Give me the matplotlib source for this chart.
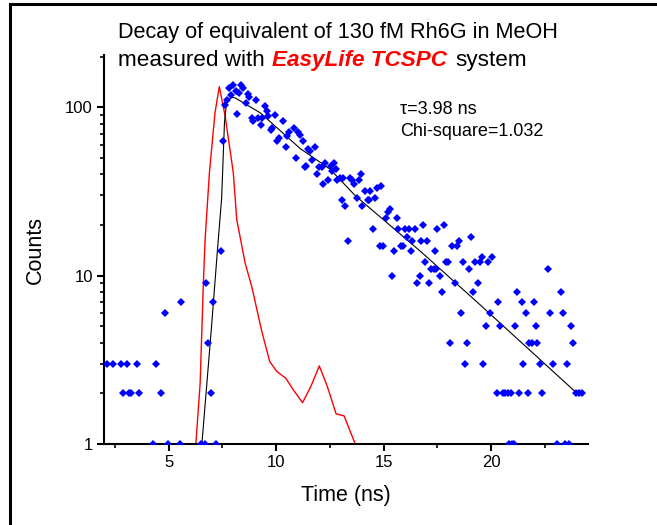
import matplotlib
matplotlib.use("Agg")
import matplotlib.pyplot as plt
from matplotlib.ticker import FixedLocator, NullFormatter, FixedFormatter
from matplotlib.lines import Line2D

plt.rcParams['font.family'] = ['Liberation Sans', 'DejaVu Sans']

# ---------------- data ----------------
decay_t = [2.15, 2.40, 2.77, 2.87, 3.08, 3.18, 3.27, 3.54, 3.64, 4.27, 4.42, 4.64, 4.84, 4.96,
           5.54, 5.58, 6.52, 6.70, 6.74, 6.84, 6.96, 7.05, 7.19, 7.44,
           7.52, 7.63, 7.74, 7.83, 7.90, 8.01, 8.12, 8.20, 8.29, 8.39, 8.48, 8.60, 8.68, 8.76,
           8.88, 8.94, 9.07, 9.18, 9.29, 9.36, 9.47, 9.57, 9.64, 9.75, 9.81, 9.95, 10.06, 10.15,
           10.34, 10.47, 10.53, 10.62, 10.81, 10.93, 11.04, 11.12, 11.24, 11.33, 11.38, 11.50,
           11.58, 11.67, 11.80, 11.89, 12.01, 12.14, 12.20, 12.29, 12.42,
           12.54, 12.59, 12.67, 12.79, 12.85, 12.98, 13.05, 13.13, 13.20, 13.36, 13.44, 13.52,
           13.63, 13.77, 13.87, 13.95, 14.00, 14.14, 14.26, 14.33, 14.37, 14.52, 14.62, 14.71,
           14.84, 14.88, 14.99, 15.12, 15.22, 15.30, 15.38, 15.49, 15.61, 15.69, 15.80, 15.90,
           16.00, 16.08, 16.20, 16.26, 16.34, 16.47, 16.54, 16.70, 16.73, 16.85, 16.93, 17.00,
           17.13, 17.21, 17.32, 17.38, 17.43, 17.50, 17.63, 17.70, 17.81, 17.90, 18.00, 18.09,
           18.20, 18.30, 18.40, 18.50, 18.59, 18.68, 18.79, 18.88, 18.98, 19.07, 19.15, 19.26,
           19.37, 19.46, 19.57, 19.64, 19.75, 19.85, 19.95, 20.03, 20.25, 20.33, 20.42, 20.53,
           20.65, 20.78, 20.85, 20.92, 20.98, 21.04, 21.12, 21.20, 21.30, 21.41, 21.47, 21.60,
           21.69, 21.74, 21.89, 22.00, 22.08, 22.15, 22.25, 22.36, 22.64, 22.74, 22.85, 23.05,
           23.24, 23.33, 23.44, 23.52, 23.60, 23.72, 23.80, 23.92, 24.06, 24.20]
decay_counts = [3, 3, 3, 2, 3, 2, 2, 3, 2, 1, 3, 2, 6, 1,
                1, 7, 1, 1, 9, 4, 2, 7, 1, 14,
                63, 104, 110, 130, 119, 136, 125, 91, 122, 136, 131, 106, 121, 115,
                86, 83, 110, 86, 79, 86, 102, 95, 89, 73, 75, 90, 63, 66,
                83, 58, 68, 71, 76, 50, 71, 69, 63, 44, 45, 57,
                55, 49, 58, 40, 44, 44, 35, 47, 37,
                45, 42, 47, 43, 37, 38, 28, 38, 26, 16, 38, 37,
                35, 29, 37, 40, 26, 32, 28, 28, 32, 19, 29, 33,
                15, 34, 15, 22, 24, 25, 10, 14, 22, 19, 15, 15,
                19, 17, 19, 14, 16, 19, 9, 10, 16, 20, 12, 16,
                9, 11, 11, 14, 11, 19, 10, 8, 20, 12, 12, 4,
                15, 9, 15, 16, 6, 12, 3, 4, 11, 17, 8, 12,
                9, 12, 13, 3, 5, 12, 6, 13, 2, 7, 5, 2,
                2, 2, 1, 2, 1, 1, 5, 8, 2, 7, 3, 6,
                2, 4, 4, 7, 5, 4, 3, 2, 11, 6, 3, 1,
                8, 6, 1, 3, 1, 5, 4, 2, 2, 2]

irf_t = [6.27, 6.47, 6.62, 6.70, 6.90, 7.16, 7.36, 7.63, 8.01, 8.17, 8.56, 8.87, 9.33,
         9.70, 10.03, 10.45, 10.80, 11.23, 11.61, 12.01, 12.38, 12.79, 13.16, 13.68]
irf_counts = [1.0, 2.3, 9.1, 16.4, 40.9, 93, 133, 89, 41, 21.6, 11.9, 8.6, 4.7,
              3.1, 2.7, 2.46, 2.1, 1.76, 2.19, 2.91, 2.2, 1.51, 1.47, 1.0]

fit_t = [6.55, 7.00, 7.27, 7.47, 7.60, 7.70, 7.94, 8.10, 9.26, 11.12, 12.51, 13.67,
         16.70, 19.33, 23.90]
fit_counts = [1.0, 5.0, 14.0, 29.0, 81.0, 109.0, 115.0, 114.0, 93.0, 57.0, 43.0, 30.0,
              14.0, 7.0, 2.05]

x_major = [5, 10, 15, 20]
x_minor = [2.5, 7.5, 12.5, 17.5, 22.5]
y_major = [1, 10, 100]
y_major_labels = ['1', '10', '100']
y_minor = [2, 3, 4, 5, 6, 7, 8, 9, 20, 30, 40, 50, 60, 70, 80, 90, 200]

# ---------------- figure ----------------
W, H = 657, 525
fig = plt.figure(figsize=(W / 100, H / 100), dpi=100)
ax = fig.add_axes([104 / W, 1 - 444 / H, (588 - 104) / W, (444 - 55) / H])

ax.plot(irf_t, irf_counts, color='#ff0000', lw=1.0, zorder=2)
ax.plot(fit_t, fit_counts, color='black', lw=0.8, zorder=3)
ax.plot(decay_t, decay_counts, linestyle='none', marker='D', markersize=4,
        color='#0000ff', markeredgewidth=0, zorder=4)

ax.set_yscale('log')
ax.set_xlim(2, 24.5)
ax.set_ylim(1, 205)

ax.xaxis.set_major_locator(FixedLocator(x_major))
ax.xaxis.set_minor_locator(FixedLocator(x_minor))
ax.yaxis.set_major_locator(FixedLocator(y_major))
ax.yaxis.set_major_formatter(FixedFormatter(y_major_labels))
ax.yaxis.set_minor_locator(FixedLocator(y_minor))
ax.yaxis.set_minor_formatter(NullFormatter())

for s in ['top', 'right']:
    ax.spines[s].set_visible(False)
for s in ['left', 'bottom']:
    ax.spines[s].set_linewidth(1.5)

ax.tick_params(which='major', direction='out', length=5, width=1.5, labelsize=12, pad=3)
ax.tick_params(which='minor', direction='out', length=3, width=1.2)

ax.set_xlabel('Time (ns)', fontsize=15.5, labelpad=11)
ax.set_ylabel('Counts', fontsize=15.5, labelpad=14)

# annotations
ax.text(400 / W, 1 - 110 / H, '\u03c4=3.98 ns', transform=fig.transFigure,
        fontsize=13, ha='left', va='center')
ax.text(400 / W, 1 - 131 / H, 'Chi-square=1.032', transform=fig.transFigure,
        fontsize=13, ha='left', va='center')

# title
fig.text(118 / W, 1 - 38 / H, 'Decay of equivalent of 130 fM Rh6G in MeOH',
         fontsize=15.6, ha='left', va='baseline')
tsize = 16.2
t1 = fig.text(118 / W, 1 - 66 / H, 'measured with', fontsize=tsize,
              ha='left', va='baseline')
sp = 0.34 * tsize
t2 = fig.text(0, 0, 'EasyLife TCSPC', fontsize=tsize, color='#ff0000',
              fontweight='bold', fontstyle='italic', ha='left', va='baseline')
t3 = fig.text(0, 0, 'system', fontsize=tsize, ha='left', va='baseline')

fig.canvas.draw()
r = fig.canvas.get_renderer()
bb1 = t1.get_window_extent(r)
x2 = bb1.x1 + sp * 100 / 72
t2.set_position((x2 / W, 1 - 66 / H))
fig.canvas.draw()
bb2 = t2.get_window_extent(r)
x3 = bb2.x1 + sp * 100 / 72
t3.set_position((x3 / W, 1 - 66 / H))

# figure border (left and top)
fig.add_artist(Line2D([10 / W, 10 / W], [0, 1 - 4 / H], transform=fig.transFigure,
                      color='black', lw=2.2, solid_capstyle='projecting'))
fig.add_artist(Line2D([10 / W, 1], [1 - 4 / H, 1 - 4 / H], transform=fig.transFigure,
                      color='black', lw=2.2, solid_capstyle='projecting'))

fig.savefig('out.png', dpi=100)
